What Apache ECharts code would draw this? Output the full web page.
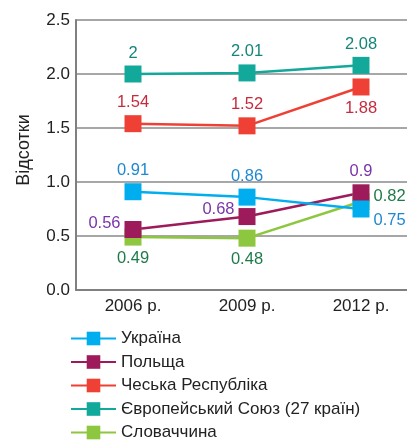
<!DOCTYPE html>
<html><head><meta charset="utf-8">
<script src="https://cdn.jsdelivr.net/npm/echarts@6/dist/echarts.min.js"></script>
<style>html,body{margin:0;padding:0;background:#fff}#c{width:407px;height:443px}</style>
</head><body><div id="c"></div>
<script>
const categories = ['2006 р.', '2009 р.', '2012 р.'];
const ukraine = [0.91, 0.86, 0.75];
const poland = [0.56, 0.68, 0.9];
const czech = [1.54, 1.52, 1.88];
const eu = [2, 2.01, 2.08];
const slovakia = [0.49, 0.48, 0.82];
const names = ['Україна', 'Польща', 'Чеська Республіка', 'Європейський Союз (27 країн)', 'Словаччина'];

const FONT = 'Liberation Sans, Arial, sans-serif';
function mk(name, data, color, labelColor, positions, offsets) {
  return {
    name, type: 'line', data: data.map((v, i) => ({
      value: v,
      label: { position: positions[i], offset: offsets ? offsets[i] : [0, 0] }
    })),
    symbol: 'rect', symbolSize: 17,
    lineStyle: { color, width: 2.5 },
    itemStyle: { color },
    label: { show: true, color: labelColor, fontSize: 16.5, fontFamily: FONT, distance: 4,
      formatter: p => String(p.value) }
  };
}
const chart = echarts.init(document.getElementById('c'));
chart.setOption({
  animation: false,
  textStyle: { fontFamily: FONT },
  grid: { left: 76, top: 20, height: 270, width: 342, outerBoundsMode: 'none', containLabel: false },
  legend: {
    orient: 'vertical', left: 70, top: 330, padding: 0, itemGap: 6.5, itemWidth: 45, itemHeight: 17,
    data: names, textStyle: { fontSize: 17, color: '#222', fontFamily: FONT }
  },
  xAxis: {
    type: 'category', data: categories, boundaryGap: true,
    axisLine: { lineStyle: { color: '#808080', width: 2 } },
    axisTick: { inside: true, length: 6, lineStyle: { color: '#808080', width: 2 } },
    axisLabel: { fontSize: 17, color: '#222', margin: 8, fontFamily: FONT }
  },
  yAxis: {
    type: 'value', min: 0, max: 2.5, interval: 0.5,
    name: 'Відсотки', nameLocation: 'middle', nameGap: 43, nameRotate: 90,
    nameTextStyle: { fontSize: 18, color: '#222', fontFamily: FONT, padding: [0, 0, 0, 10] },
    axisLine: { show: true, lineStyle: { color: '#808080', width: 2 } },
    axisTick: { show: false },
    splitLine: { lineStyle: { color: '#8a8a8a', width: 1.5 } },
    axisLabel: { fontSize: 17, color: '#222', margin: 6, formatter: v => v.toFixed(1), fontFamily: FONT }
  },
  series: [
    mk(names[4], slovakia, '#8dc63f', '#1f7a4a', ['bottom', 'bottom', 'right'], [[0, 0], [0, 0], [0, -5]]),
    mk(names[3], eu, '#12a89a', '#14857a', ['top', 'top', 'top']),
    mk(names[2], czech, '#ee4035', '#c62a3c', ['top', 'top', 'bottom']),
    mk(names[1], poland, '#9e1b5b', '#7a34a8', ['left', 'left', 'top'], [[0, -6], [0, -7], [0, 0]]),
    mk(names[0], ukraine, '#00aeef', '#1e88d0', ['top', 'top', 'right'], [[0, 0], [0, 0], [0, 11]])
  ]
});
</script></body></html>
